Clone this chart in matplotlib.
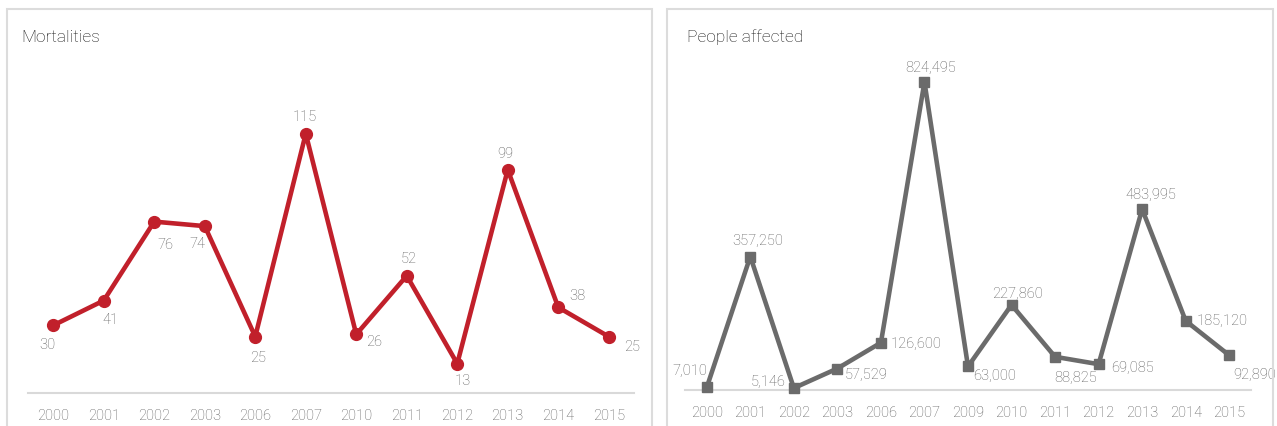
import matplotlib
matplotlib.use("Agg")
import matplotlib.pyplot as plt
from matplotlib.patches import Rectangle

# Mortalities
mort_years = ["2000", "2001", "2002", "2003", "2006", "2007", "2010",
              "2011", "2012", "2013", "2014", "2015"]
mort_values = [30, 41, 76, 74, 25, 115, 26, 52, 13, 99, 38, 25]

# People affected
aff_years = ["2000", "2001", "2002", "2003", "2006", "2007", "2009",
             "2010", "2011", "2012", "2013", "2014", "2015"]
aff_values = [7010, 357250, 5146, 57529, 126600, 824495, 63000,
              227860, 88825, 69085, 483995, 185120, 92890]

# label offsets in pixels (dx, dy)
mort_offsets = [(-6, -19), (7, -18), (11, -22), (-7, -17), (3, -20), (-1, 18),
                (18, -7), (2, 18), (5, -16), (-2, 17), (19, 12), (23, -9)]
aff_offsets = [(-17, 17), (7, 17), (-26, 7), (29, -5), (35, 0), (6, 15),
               (27, -9), (6, 12), (21, -20), (34, -3), (9, 15), (36, 1), (25, -19)]

RED = "#c1202b"
GREY = "#6b6b6b"
TXT = "#5c5c5c"
FONT = ["Roboto", "DejaVu Sans"]
plt.rcParams['font.family'] = FONT
plt.rcParams['font.weight'] = 'light'

W, H = 1277, 427
fig = plt.figure(figsize=(W / 100, H / 100), dpi=100)

# panel frames
for x0, x1 in [(7, 652), (667, 1273)]:
    fig.patches.append(Rectangle((x0 / W, -0.05), (x1 - x0) / W, (H - 10) / H + 0.05,
                                 transform=fig.transFigure, fill=False,
                                 edgecolor="#dcdcdc", linewidth=1.5))


def px_axes(x0, x1, ytop, ybot):
    return fig.add_axes([x0 / W, (H - ybot) / H, (x1 - x0) / W, (ybot - ytop) / H])


def draw(ax, years, values, offsets, color, marker, ms, fmt, ymax):
    x = range(len(years))
    ax.plot(x, values, color=color, lw=3.3, marker=marker, ms=ms, zorder=3,
            clip_on=False)
    for i, v in enumerate(values):
        ax.annotate(fmt(v), (i, v), xytext=offsets[i], textcoords="offset pixels",
                    ha="center", va="center", fontsize=10.5, color=TXT,
                    fontweight="light")
    ax.set_xlim(-0.5, len(years) - 0.5)
    ax.set_ylim(0, ymax)
    ax.set_xticks(list(x))
    ax.set_xticklabels(years, fontweight="light")
    ax.tick_params(axis="x", length=0, pad=11, labelsize=10.5, labelcolor=TXT)
    ax.set_yticks([])
    for s in ["top", "left", "right"]:
        ax.spines[s].set_visible(False)
    ax.spines["bottom"].set_color("#d9d9d9")
    ax.spines["bottom"].set_linewidth(1.5)
    ax.patch.set_alpha(0)


ax1 = px_axes(28, 634, 60, 394)
draw(ax1, mort_years, mort_values, mort_offsets, RED, "o", 8.5,
     lambda v: str(v), 334 / 2.255)

ax2 = px_axes(685, 1251, 60, 391)
draw(ax2, aff_years, aff_values, aff_offsets, GREY, "s", 7.5,
     lambda v: f"{v:,}", 331 / 0.0003736)

fig.text(21 / W, 1 - 38 / H, "Mortalities", fontsize=12.5, color="#111111",
         ha="left", va="center", fontweight="light")
fig.text(687 / W, 1 - 37 / H, "People affected", fontsize=12.5, color="#111111",
         ha="left", va="center", fontweight="light")

fig.savefig("out.png", dpi=100, facecolor="white")
